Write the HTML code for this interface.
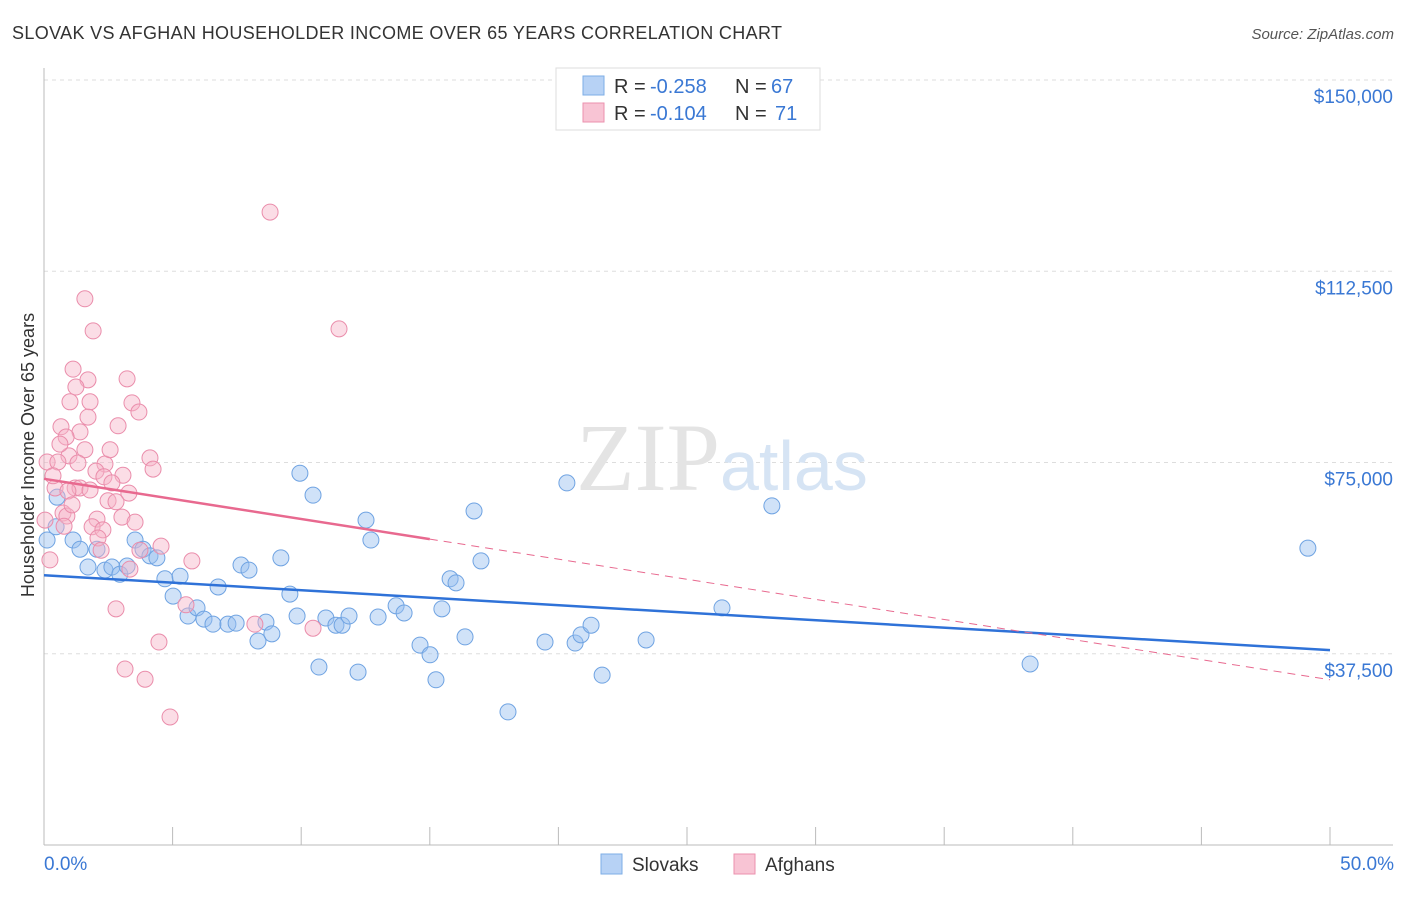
<!DOCTYPE html>
<html><head><meta charset="utf-8"><style>
body{margin:0;background:#fff;font-family:"Liberation Sans",sans-serif;}
</style></head><body>
<svg width="1406" height="892" xmlns="http://www.w3.org/2000/svg">
<text x="12" y="39" font-size="18" fill="#333" textLength="770">SLOVAK VS AFGHAN HOUSEHOLDER INCOME OVER 65 YEARS CORRELATION CHART</text>
<text x="1394" y="39" font-size="15" fill="#555" text-anchor="end" font-style="italic">Source: ZipAtlas.com</text>
<g id="grid"></g>
<text x="720" y="490" font-size="96" fill="#e4e4e4" text-anchor="end" font-family="Liberation Serif">ZIP</text>
<text x="720" y="490" font-size="70" fill="#d6e4f4">atlas</text>
<text transform="translate(34,455) rotate(-90)" font-size="18" fill="#333" text-anchor="middle">Householder Income Over 65 years</text>
<g id="marks"></g>
<g>
<rect x="556" y="68" width="264" height="62" fill="#fff" stroke="#ddd"/>
<rect x="583" y="76" width="21" height="19" fill="#b7d2f5" stroke="#7eaee6"/>
<text x="614" y="93" font-size="20" fill="#333">R =</text>
<text x="650" y="93" font-size="20" fill="#3a78d4">-0.258</text>
<text x="735" y="93" font-size="20" fill="#333">N =</text>
<text x="771" y="93" font-size="20" fill="#3a78d4">67</text>
<rect x="583" y="103" width="21" height="19" fill="#f8c4d4" stroke="#eb91ae"/>
<text x="614" y="120" font-size="20" fill="#333">R =</text>
<text x="650" y="120" font-size="20" fill="#3a78d4">-0.104</text>
<text x="735" y="120" font-size="20" fill="#333">N =</text>
<text x="775" y="120" font-size="20" fill="#3a78d4">71</text>
</g>
<g>
<rect x="601" y="854" width="21" height="20" fill="#b7d2f5" stroke="#7eaee6"/>
<text x="632" y="871" font-size="19" fill="#333">Slovaks</text>
<rect x="734" y="854" width="21" height="20" fill="#f8c4d4" stroke="#eb91ae"/>
<text x="765" y="871" font-size="19" fill="#333">Afghans</text>
</g>
<text x="44" y="870" font-size="19" fill="#3a78d4">0.0%</text>
<text x="1394" y="870" font-size="19" fill="#3a78d4" text-anchor="end">50.0%</text>
</svg>
<script>
const yTicks=[150000,112500,75000,37500];
const yTickLabels=["$150,000","$112,500","$75,000","$37,500"];
const slovakX=[0.51,0.47,1.13,1.4,2.06,1.71,2.37,2.64,2.95,3.23,3.54,3.85,4.12,4.39,4.7,5.29,5.02,5.6,5.95,6.22,6.57,6.77,7.15,7.47,7.66,7.97,8.32,8.63,8.86,9.21,9.56,9.84,9.95,10.46,10.69,10.96,11.35,11.59,11.86,12.21,12.52,12.71,12.99,13.69,14.0,14.62,15.01,15.24,15.47,15.79,16.02,16.37,16.72,16.99,18.04,19.48,20.33,20.65,20.88,21.27,21.7,23.41,26.36,28.3,38.34,49.14,0.12];
const slovakY=[68.2,62.4,59.8,58.0,58.0,54.5,53.9,54.5,53.1,54.7,59.8,58.0,56.7,56.3,52.2,52.7,48.8,44.9,46.5,44.3,43.3,50.6,43.3,43.5,54.9,53.9,40.0,43.7,41.4,56.3,49.2,44.9,72.9,68.6,34.9,44.5,43.1,43.1,44.9,33.9,63.7,59.8,44.7,46.9,45.5,39.2,37.3,32.4,46.3,52.2,51.4,40.8,65.5,55.7,26.1,39.8,71.0,39.6,41.2,43.1,33.3,40.2,46.5,66.5,35.5,58.2,59.8];
const afghanX=[1.59,1.91,1.13,1.71,3.23,1.24,1.01,1.79,3.42,3.69,1.71,0.66,2.88,1.4,0.86,1.59,0.97,0.12,0.54,1.32,2.37,4.12,4.24,2.02,3.07,2.33,0.43,1.21,1.4,0.93,2.64,3.3,2.49,2.8,0.74,0.89,3.03,3.54,2.06,1.87,0.78,2.29,2.1,3.73,4.55,2.22,5.75,3.34,0.23,2.8,5.52,4.47,3.15,3.93,4.9,8.79,11.47,10.46,8.2,0.35,0.04,1.09,1.79,0.62,2.57];
const afghanY=[107.1,100.8,93.3,91.2,91.4,89.8,86.9,86.9,86.7,84.9,83.9,82.0,82.2,81.0,80.0,77.5,76.3,75.1,75.1,74.9,74.7,75.9,73.7,73.3,72.5,72.2,70.0,70.0,70.0,69.4,71.0,69.0,67.5,67.3,65.1,64.5,64.3,63.3,63.9,62.4,62.5,61.8,60.2,57.8,58.6,57.8,55.7,54.1,55.9,46.3,47.1,39.8,34.5,32.5,25.1,124.1,101.2,42.5,43.3,72.4,63.7,66.7,69.6,78.6,77.5];
const slovakTrend=[52.9,38.2];
const afghanTrend=[71.8,32.4];
const afghanSolidEnd=15;
const NS="http://www.w3.org/2000/svg";
const X0=44,X1=1330,Y0=845,YTOP=80;
const xs=p=>X0+(p/50)*(X1-X0);
const ys=v=>Y0-(v/150000)*(Y0-YTOP);
const ysk=k=>ys(k*1000);
function mk(tag,attrs,parent){const e=document.createElementNS(NS,tag);for(const k in attrs)e.setAttribute(k,attrs[k]);parent.appendChild(e);return e;}
const grid=document.getElementById('grid');
yTicks.forEach((t,i)=>{
 const l=mk('line',{x1:X0,x2:1393,y1:ys(t),y2:ys(t),stroke:'#ddd','stroke-dasharray':'4,4'},grid);
 
 
 const tx=mk('text',{x:1393,y:ys(t)+23,'font-size':19,fill:'#3a78d4','text-anchor':'end'},grid);
 tx.textContent=yTickLabels[i];
 
 
});
const ax=mk('line',{x1:X0,x2:X0,y1:68,y2:Y0,stroke:'#bbb'},grid);


const bx=mk('line',{x1:X0,x2:1393,y1:Y0,y2:Y0,stroke:'#bbb'},grid);


for(let i=0;i<=10;i++){
 const t=mk('line',{x1:xs(i*5),x2:xs(i*5),y1:Y0,y2:Y0-18,stroke:'#bbb'},grid);
 
 
}
const marks=document.getElementById('marks');
slovakX.forEach((x,i)=>{
 const c=mk('circle',{cx:xs(x),cy:ysk(slovakY[i]),r:8,fill:'rgba(150,190,240,0.45)',stroke:'#6fa3e2','stroke-width':1},marks);
 
 
});
afghanX.forEach((x,i)=>{
 const c=mk('circle',{cx:xs(x),cy:ysk(afghanY[i]),r:8,fill:'rgba(246,180,200,0.45)',stroke:'#ea8dab','stroke-width':1},marks);
 
 
});
const bt=mk('line',{x1:xs(0),y1:ysk(slovakTrend[0]),x2:xs(50),y2:ysk(slovakTrend[1]),stroke:'#2f72d8','stroke-width':2.5},marks);


const pm=afghanTrend[0]+(afghanTrend[1]-afghanTrend[0])*afghanSolidEnd/50;
const pt=mk('line',{x1:xs(0),y1:ysk(afghanTrend[0]),x2:xs(afghanSolidEnd),y2:ysk(pm),stroke:'#e8698f','stroke-width':2.5},marks);


const pd=mk('line',{x1:xs(afghanSolidEnd),y1:ysk(pm),x2:xs(50),y2:ysk(afghanTrend[1]),stroke:'#e8698f','stroke-width':1,'stroke-dasharray':'8,6'},marks);


</script>
</body></html>
